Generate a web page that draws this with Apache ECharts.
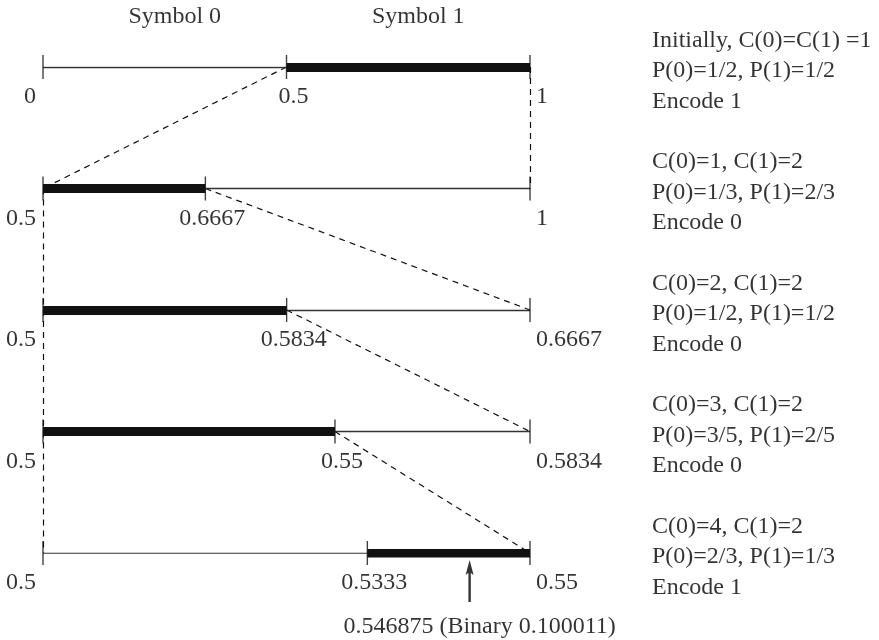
<!DOCTYPE html>
<html>
<head>
<meta charset="utf-8">
<script src="https://cdn.jsdelivr.net/npm/echarts@6/dist/echarts.min.js"></script>
<style>html,body{margin:0;padding:0;background:#fff}#c{width:879px;height:640px}</style>
</head>
<body>
<div id="c"></div>
<script>
// ---- data ----
const rowLow = [0, 0.5, 0.5, 0.5, 0.5];
const rowHigh = [1, 1, 0.6667, 0.5834, 0.55];
const rowSplit = [0.5, 0.6667, 0.5834, 0.55, 0.5333];
const encodedSymbol = [1, 0, 0, 0, 1];
const lowLabels = ['0', '0.5', '0.5', '0.5', '0.5'];
const splitLabels = ['0.5', '0.6667', '0.5834', '0.55', '0.5333'];
const highLabels = ['1', '1', '0.6667', '0.5834', '0.55'];
const countC0 = [1, 1, 2, 3, 4];
const countC1 = [1, 2, 2, 2, 2];
const probP0 = ['1/2', '1/3', '1/2', '3/5', '2/3'];
const probP1 = ['1/2', '2/3', '1/2', '2/5', '1/3'];
const symbolHeaders = ['Symbol 0', 'Symbol 1'];
const arrowMark = 0.5438; // arrow position as drawn in the picture
const arrowText = '0.546875 (Binary 0.100011)';

// ---- build ----
const FONT = 'Liberation Serif';
const FS = 24;
const nRows = rowLow.length;
const norm = (i, v) => (v - rowLow[i]) / (rowHigh[i] - rowLow[i]);

const baseLines = [], thickLines = [], ticks = [], dashed = [];
const lowPts = [], splitPts = [], highPts = [], notePts = [];
for (let i = 0; i < nRows; i++) {
  const s = norm(i, rowSplit[i]);
  baseLines.push({ coords: [[0, i], [1, i]] });
  thickLines.push({ coords: encodedSymbol[i] === 1 ? [[s, i], [1, i]] : [[0, i], [s, i]] });
  ticks.push([0, i], [s, i], [1, i]);
  lowPts.push({ value: [0, i], label: { formatter: lowLabels[i] } });
  splitPts.push({ value: [s, i], label: { formatter: splitLabels[i] } });
  highPts.push({ value: [1, i], label: { formatter: highLabels[i] } });
  const first = i === 0 ? 'Initially, C(0)=C(1) =' + countC0[i] : 'C(0)=' + countC0[i] + ', C(1)=' + countC1[i];
  notePts.push({ value: [1, i], label: { formatter: [first, 'P(0)=' + probP0[i] + ', P(1)=' + probP1[i], 'Encode ' + encodedSymbol[i]].join('\n') } });
  if (i < nRows - 1) {
    const a = encodedSymbol[i] === 1 ? s : 0;
    const b = encodedSymbol[i] === 1 ? 1 : s;
    dashed.push({ coords: [[a, i], [0, i + 1]] });
    dashed.push({ coords: [[b, i], [1, i + 1]] });
  }
}
const headerPts = [
  { value: [norm(0, (rowLow[0] + rowSplit[0]) / 2), 0], label: { formatter: symbolHeaders[0] } },
  { value: [norm(0, (rowSplit[0] + rowHigh[0]) / 2), 0], label: { formatter: symbolHeaders[1] } }
];
const lastRow = nRows - 1;
const arrowX = norm(lastRow, arrowMark);

const txt = { fontFamily: FONT, fontSize: FS, color: '#000' };

const chart = echarts.init(document.getElementById('c'), null, { renderer: 'canvas' });
chart.setOption({
  backgroundColor: '#fff',
  animation: false,
  grid: { left: 43, width: 487, top: 67, height: 486 },
  xAxis: { type: 'value', min: 0, max: 1, show: false },
  yAxis: { type: 'value', min: 0, max: nRows - 1, inverse: true, show: false },
  series: [
    { type: 'lines', coordinateSystem: 'cartesian2d', data: dashed, silent: true,
      lineStyle: { color: '#111', width: 1.2, type: [6, 5], opacity: 1 } },
    { type: 'lines', coordinateSystem: 'cartesian2d', data: baseLines, silent: true,
      lineStyle: { color: '#333', width: 1.3, opacity: 1 } },
    { type: 'lines', coordinateSystem: 'cartesian2d', data: thickLines, silent: true,
      lineStyle: { color: '#111', width: 9, opacity: 1, cap: 'butt' } },
    { type: 'scatter', data: ticks, symbol: 'rect', symbolSize: [1.4, 24],
      itemStyle: { color: '#111' }, silent: true },
    { type: 'scatter', data: lowPts, symbolSize: 0, silent: true,
      label: { show: true, position: [0, 0], offset: [-7, 30], align: 'right', verticalAlign: 'middle', ...txt } },
    { type: 'scatter', data: splitPts, symbolSize: 0, silent: true,
      label: { show: true, position: [0, 0], offset: [7, 30], align: 'center', verticalAlign: 'middle', ...txt } },
    { type: 'scatter', data: highPts, symbolSize: 0, silent: true,
      label: { show: true, position: [0, 0], offset: [6, 30], align: 'left', verticalAlign: 'middle', ...txt } },
    { type: 'scatter', data: notePts, symbolSize: 0, silent: true,
      label: { show: true, position: [0, 0], offset: [122, 4], align: 'left', verticalAlign: 'middle', lineHeight: 30.5, ...txt } },
    { type: 'scatter', data: headerPts, symbolSize: 0, silent: true,
      label: { show: true, position: [0, 0], offset: [10, -50], align: 'center', verticalAlign: 'middle', ...txt } },
    { type: 'scatter', data: [[arrowX, lastRow]], silent: true,
      symbol: 'path://M5,0 L9,15 L5,12 L1,15 Z M3.8,12 L6.2,12 L6.2,42 L3.8,42 Z',
      symbolSize: [8, 42], symbolOffset: [0, 28], itemStyle: { color: '#000' } },
    { type: 'scatter', data: [{ value: [arrowX, lastRow], label: { formatter: arrowText } }], symbolSize: 0, silent: true,
      label: { show: true, position: [0, 0], offset: [10, 74], align: 'center', verticalAlign: 'middle', ...txt } }
  ]
});
</script>
</body>
</html>
